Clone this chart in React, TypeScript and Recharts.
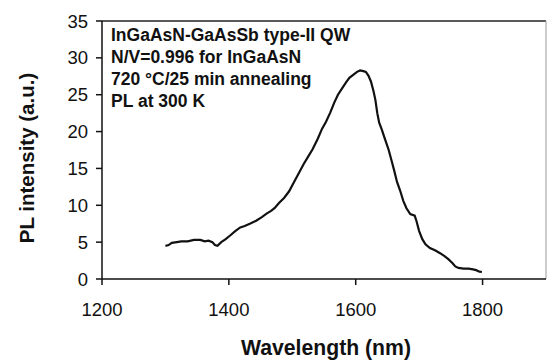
import { LineChart, Line, XAxis, YAxis, ReferenceLine, Label } from "recharts";

const wavelengths = [
  1300, 1305, 1310, 1318, 1325, 1335, 1345, 1355, 1362, 1368, 1374, 1378, 1382,
  1388, 1395, 1402, 1410, 1418, 1425, 1433, 1443, 1452, 1460, 1466, 1472, 1479,
  1487, 1495, 1503, 1510, 1518, 1525, 1532, 1540, 1547, 1553, 1560, 1566, 1572,
  1578, 1585, 1590, 1596, 1602, 1607, 1612, 1616, 1620, 1624, 1628, 1631, 1634,
  1637, 1641, 1646, 1652, 1657, 1661, 1665, 1670, 1675, 1680, 1686, 1693, 1696,
  1700, 1705, 1710, 1717, 1725, 1733, 1740, 1746, 1752, 1757, 1762, 1770, 1778,
  1785, 1790, 1795, 1799,
];

const intensity = [
  4.5, 4.6, 4.9, 5.0, 5.1, 5.1, 5.3, 5.3, 5.1, 5.2, 5.0, 4.6, 4.5, 5.0, 5.4,
  5.9, 6.5, 7.0, 7.2, 7.5, 7.9, 8.4, 8.9, 9.2, 9.6, 10.3, 11.0, 11.9, 13.2,
  14.3, 15.6, 16.6, 17.6, 19.0, 20.4, 21.3, 22.6, 23.9, 25.0, 25.8, 26.7, 27.3,
  27.7, 28.1, 28.3, 28.2, 28.1, 27.6, 26.8, 25.5, 24.3, 22.5, 21.2, 20.3, 19.0,
  17.5, 15.9, 14.6, 13.2, 12.0, 10.6, 9.6, 8.8, 8.6, 7.8, 6.5, 5.4, 4.7, 4.2,
  3.9, 3.5, 3.1, 2.7, 2.2, 1.7, 1.5, 1.4, 1.4, 1.3, 1.2, 1.0, 0.95,
];

const xTicks = [1200, 1400, 1600, 1800];
const yTicks = [0, 5, 10, 15, 20, 25, 30, 35];

const notes = [
  "InGaAsN-GaAsSb type-II QW",
  "N/V=0.996 for InGaAsN",
  "720 °C/25 min annealing",
  "PL at 300 K",
];

const data = wavelengths.map((w, i) => ({ wavelength: w, pl: intensity[i] }));

const font = "Arial, 'Liberation Sans', Helvetica, sans-serif";

export default function App() {
  return (
    <div
      style={{
        position: "absolute",
        left: 0,
        top: 0,
        width: 547,
        height: 362,
        background: "#fff",
        fontFamily: font,
      }}
    >
      <LineChart
        width={547}
        height={362}
        data={data}
        margin={{ top: 21, right: 1, bottom: 0, left: 0 }}
      >
        <XAxis
          dataKey="wavelength"
          type="number"
          domain={[1200, 1900]}
          ticks={xTicks}
          height={83}
          tickSize={6}
          tickMargin={18}
          stroke="#111"
          strokeWidth={1.5}
          tick={{ fill: "#111", fontSize: 18.5, fontFamily: font }}
          allowDataOverflow
        >
          <Label
            content={({ viewBox }: any) => (
              <text
                x={viewBox.x + viewBox.width / 2 + 2}
                y={viewBox.y + 76}
                textAnchor="middle"
                fontSize={21.2}
                fontWeight="bold"
                fontFamily={font}
                fill="#111"
              >
                Wavelength (nm)
              </text>
            )}
          />
        </XAxis>
        <YAxis
          type="number"
          domain={[0, 35]}
          ticks={yTicks}
          width={102}
          tickSize={6}
          tickMargin={8}
          stroke="#111"
          strokeWidth={1.5}
          tick={{ fill: "#111", fontSize: 18.5, fontFamily: font }}
        >
          <Label
            content={({ viewBox }: any) => (
              <text
                x={0}
                y={0}
                transform={`translate(${viewBox.x + 34}, ${viewBox.y + viewBox.height / 2 + 8}) rotate(-90)`}
                textAnchor="middle"
                fontSize={20.5}
                fontWeight="bold"
                fontFamily={font}
                fill="#111"
              >
                PL intensity (a.u.)
              </text>
            )}
          />
        </YAxis>
        <ReferenceLine y={35} stroke="#222" strokeWidth={1.5}>
          <Label
            content={({ viewBox }: any) => (
              <g>
                {notes.map((n, i) => (
                  <text
                    key={n}
                    x={viewBox.x + 9}
                    y={viewBox.y + 20 + i * 22}
                    fontSize={17.5}
                    fontWeight="bold"
                    fontFamily={font}
                    fill="#111"
                  >
                    {n}
                  </text>
                ))}
              </g>
            )}
          />
        </ReferenceLine>
        <ReferenceLine x={1900} stroke="#999" strokeWidth={1} />
        <Line
          type="linear"
          dataKey="pl"
          stroke="#111"
          strokeWidth={2.2}
          dot={false}
          isAnimationActive={false}
        />
      </LineChart>
    </div>
  );
}
